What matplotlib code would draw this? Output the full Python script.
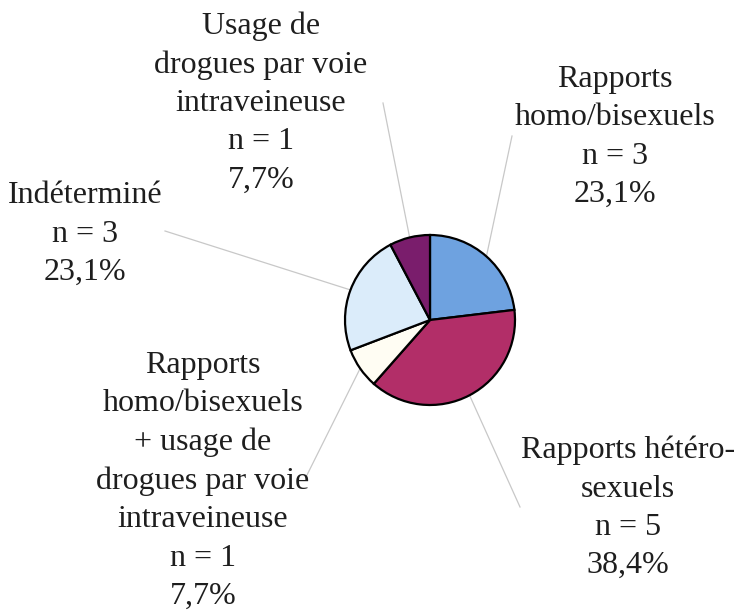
import numpy as np
import matplotlib.pyplot as plt

# Données : modes de contamination (sens horaire depuis midi)
labels = [
    "Rapports\nhomo/bisexuels",
    "Rapports hétéro-\nsexuels",
    "Rapports\nhomo/bisexuels\n+ usage de\ndrogues par voie\nintraveineuse",
    "Indéterminé",
    "Usage de\ndrogues par voie\nintraveineuse",
]
counts = [3, 5, 1, 3, 1]
pcts = [23.1, 38.4, 7.7, 23.1, 7.7]
colors = ["#6ea2e0", "#b22e68", "#fffdf3", "#dbecfa", "#7a1d6c"]

W, H = 737, 615
cx, cy, r = 430, H - 320, 85

# positions des étiquettes (px, y depuis le haut) et extrémités des traits
label_pos = [(615, 137), (628, 508), (203, 481), (85, 234), (261, 103)]
leader_end = [(512, 136), (520, 507), (306, 477), (165, 231), (383, 103)]

fig = plt.figure(figsize=(W / 100, H / 100), dpi=100)
ax = fig.add_axes([0, 0, 1, 1])

wedges, _ = ax.pie(
    pcts,
    colors=colors,
    startangle=90,
    counterclock=False,
    center=(cx, cy),
    radius=r,
    wedgeprops=dict(edgecolor="black", linewidth=1.6),
    frame=True,
)
ax.set_xlim(0, W)
ax.set_ylim(0, H)
ax.set_aspect("equal")
ax.axis("off")

for w, lab, n, p, (lx, ly), (ex, ey) in zip(wedges, labels, counts, pcts, label_pos, leader_end):
    ang = np.deg2rad((w.theta1 + w.theta2) / 2)
    sx, sy = cx + r * np.cos(ang), cy + r * np.sin(ang)
    ax.plot([sx, ex], [sy, H - ey], color="#c8c8c8", lw=0.9, zorder=0)
    txt = f"{lab}\nn = {n}\n{p:.1f}%".replace(".", ",")
    ax.text(lx, H - ly, txt, ha="center", va="center", fontsize=23,
            family="Liberation Serif", color="#1e1e1e", linespacing=1.42)

fig.savefig("out.png", dpi=100)
